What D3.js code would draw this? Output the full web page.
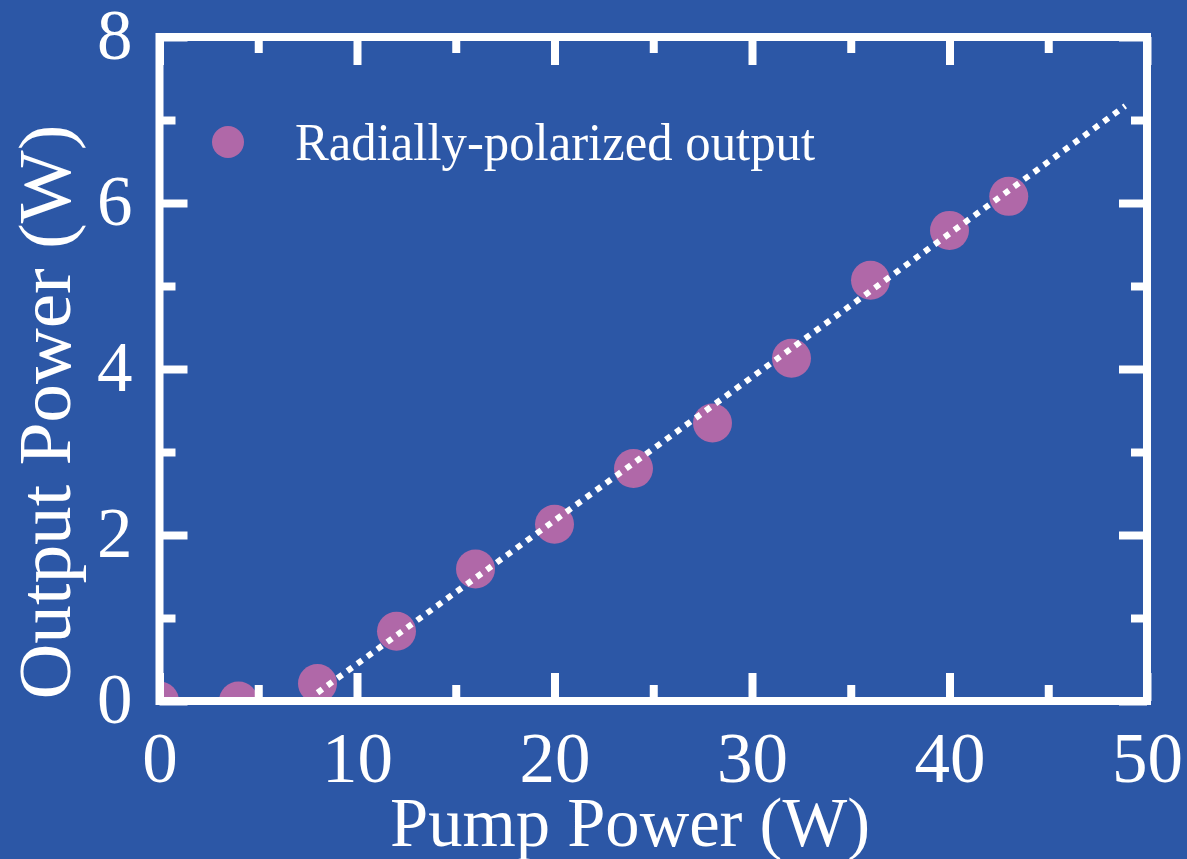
<!DOCTYPE html>
<html>
<head>
<meta charset="utf-8">
<script src="https://cdn.jsdelivr.net/npm/d3@7"></script>
<style>
  html, body { margin: 0; padding: 0; background: #2c57a6; }
  svg text { font-family: "Liberation Serif", "Times New Roman", serif; fill: #ffffff; }
</style>
</head>
<body>
<div id="chart"></div>
<script>
// measured points
var pumpPower = [0, 4, 8, 12, 16, 20, 24, 28, 32, 36, 40, 43];
var outputPower = [0, 0, 0.21, 0.84, 1.59, 2.13, 2.8, 3.35, 4.13, 5.07, 5.67, 6.08];

// linear fit (dotted)
var fitX = [8, 48.9];
var fitY = [0.1, 7.17];

var xMajor = [0, 10, 20, 30, 40, 50];
var xMinor = [5, 15, 25, 35, 45];
var yMajor = [0, 2, 4, 6, 8];
var yMinor = [1, 3, 5, 7];

var seriesLabel = "Radially-polarized output";
var xTitle = "Pump Power (W)";
var yTitle = "Output Power (W)";

var W = 1187, H = 859,
  margin = { top: 37, right: 40, bottom: 158, left: 159.5 },
  width = W - margin.left - margin.right,
  height = H - margin.top - margin.bottom,
  bg = '#2c57a6',
  dotColor = '#b068a8',
  majorLen = 28,
  minorLen = 16,
  lineW = 8;

var svg = d3.select('#chart').append('svg')
  .attr('width', W)
  .attr('height', H);

svg.append('rect').attr('width', W).attr('height', H).attr('fill', bg);

var g = svg.append('g')
  .attr('transform', 'translate(' + margin.left + ',' + margin.top + ')');

var x = d3.scaleLinear().domain([0, 50]).range([0, width]);
var y = d3.scaleLinear().domain([0, 8]).range([height, 0]);

g.append('clipPath').attr('id', 'plotClip')
  .append('rect').attr('width', width).attr('height', height);

// data points
var points = pumpPower.map(function (d, i) {
  return { x: d, y: outputPower[i] };
});

g.append('g')
  .attr('clip-path', 'url(#plotClip)')
  .selectAll('circle')
  .data(points)
  .enter().append('circle')
  .attr('cx', function (d) { return x(d.x); })
  .attr('cy', function (d) { return y(d.y); })
  .attr('r', 19.5)
  .attr('fill', dotColor);

// fit line
var fit = fitX.map(function (d, i) { return [d, fitY[i]]; });
var line = d3.line()
  .x(function (d) { return x(d[0]); })
  .y(function (d) { return y(d[1]); });

g.append('path')
  .datum(fit)
  .attr('d', line)
  .attr('fill', 'none')
  .attr('stroke', '#fff')
  .attr('stroke-width', 6)
  .attr('stroke-dasharray', '6,6.3');

// ticks: one axis per side, major + minor
function tickAxis(axisFn, scale, values, len, labels) {
  return axisFn(scale)
    .tickValues(values)
    .tickSize(-len)
    .tickFormat(labels ? d3.format('d') : '');
}

function styleAxis(sel) {
  sel.select('.domain').remove();
  sel.selectAll('.tick line')
    .attr('stroke', '#fff')
    .attr('stroke-width', lineW);
  sel.selectAll('.tick text')
    .attr('fill', '#fff')
    .style('font-family', '"Liberation Serif", serif')
    .style('font-size', '71px');
}

var axBottom = g.append('g').attr('transform', 'translate(0,' + height + ')');
axBottom.append('g').call(tickAxis(d3.axisBottom, x, xMajor, majorLen, true)).call(styleAxis);
axBottom.append('g').call(tickAxis(d3.axisBottom, x, xMinor, minorLen, false)).call(styleAxis);
axBottom.selectAll('.tick text').attr('y', 81).attr('dy', 0);

var axTop = g.append('g');
axTop.append('g').call(tickAxis(d3.axisTop, x, xMajor, majorLen, false)).call(styleAxis);
axTop.append('g').call(tickAxis(d3.axisTop, x, xMinor, minorLen, false)).call(styleAxis);

var axLeft = g.append('g');
axLeft.append('g').call(tickAxis(d3.axisLeft, y, yMajor, majorLen, true)).call(styleAxis);
axLeft.append('g').call(tickAxis(d3.axisLeft, y, yMinor, minorLen, false)).call(styleAxis);
axLeft.selectAll('.tick text').attr('x', -27).attr('dy', '0.3em');

var axRight = g.append('g').attr('transform', 'translate(' + width + ',0)');
axRight.append('g').call(tickAxis(d3.axisRight, y, yMajor, majorLen, false)).call(styleAxis);
axRight.append('g').call(tickAxis(d3.axisRight, y, yMinor, minorLen, false)).call(styleAxis);

// frame
g.append('rect')
  .attr('width', width)
  .attr('height', height)
  .attr('fill', 'none')
  .attr('stroke', '#fff')
  .attr('stroke-width', lineW);

// legend
var legend = g.append('g').attr('transform', 'translate(' + (228 - margin.left) + ',' + (142 - margin.top) + ')');
legend.append('circle').attr('r', 16).attr('fill', dotColor);
legend.append('text')
  .attr('x', 67)
  .attr('y', 18)
  .attr('textLength', 520)
  .attr('lengthAdjust', 'spacingAndGlyphs')
  .style('font-size', '53px')
  .text(seriesLabel);

// titles
svg.append('text')
  .attr('x', 630)
  .attr('y', 846)
  .attr('text-anchor', 'middle')
  .attr('textLength', 480)
  .attr('lengthAdjust', 'spacingAndGlyphs')
  .style('font-size', '70px')
  .text(xTitle);

svg.append('text')
  .attr('transform', 'translate(70,412) rotate(-90)')
  .attr('text-anchor', 'middle')
  .attr('textLength', 575)
  .attr('lengthAdjust', 'spacingAndGlyphs')
  .style('font-size', '73px')
  .text(yTitle);
</script>
</body>
</html>
